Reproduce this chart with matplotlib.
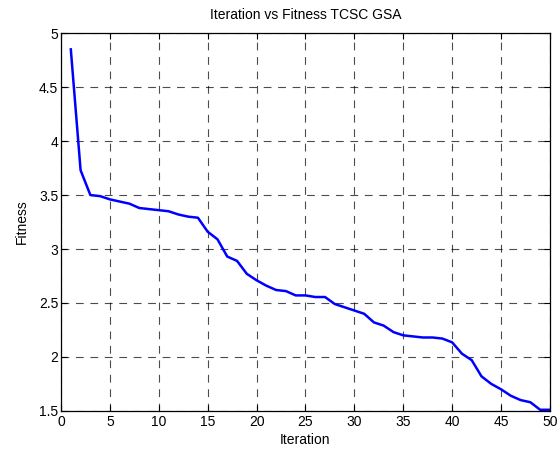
import numpy as np
import matplotlib
matplotlib.use('Agg')
import matplotlib.pyplot as plt

# 数据：每次迭代的适应度
iteration = list(range(1, 51))
fitness = [4.85, 3.73, 3.50, 3.49, 3.46, 3.44, 3.42, 3.38, 3.37, 3.36,
           3.35, 3.32, 3.30, 3.29, 3.16, 3.09, 2.93, 2.89, 2.77, 2.71,
           2.66, 2.62, 2.61, 2.57, 2.57, 2.555, 2.555, 2.49, 2.46, 2.43,
           2.40, 2.32, 2.29, 2.23, 2.20, 2.19, 2.18, 2.18, 2.17, 2.135,
           2.03, 1.97, 1.82, 1.75, 1.70, 1.64, 1.60, 1.58, 1.51, 1.51]

xticks = [0, 5, 10, 15, 20, 25, 30, 35, 40, 45, 50]
yticks = [1.5, 2, 2.5, 3, 3.5, 4, 4.5, 5]
ylabels = ['1.5', '2', '2.5', '3', '3.5', '4', '4.5', '5']

plt.rcParams['font.family'] = ['Liberation Sans', 'DejaVu Sans']
fig = plt.figure(figsize=(5.6, 4.55), dpi=100)
ax = fig.add_axes([0.109, 0.097, 0.873, 0.830])
ax.plot(iteration, fitness, color='blue', linewidth=1.8)
ax.set_xlim(0, 50)
ax.set_ylim(1.5, 5)
ax.set_xticks(xticks)
ax.set_yticks(yticks)
ax.set_yticklabels(ylabels)
ax.grid(True, color='black', linestyle=(0, (7, 6)), linewidth=0.8, alpha=0.7)
ax.tick_params(direction='in', top=True, right=True, labelsize=10, length=4.5)
ax.tick_params(axis='x', pad=3)
ax.tick_params(axis='y', pad=2)
for s in ax.spines.values():
    s.set_linewidth(0.9)
ax.set_xlabel('Iteration', fontsize=10, labelpad=3)
ax.set_ylabel('Fitness', fontsize=10, labelpad=7)
ax.set_title('Iteration vs Fitness TCSC GSA', fontsize=10, pad=10.5)
fig.savefig('out.png', dpi=100)
